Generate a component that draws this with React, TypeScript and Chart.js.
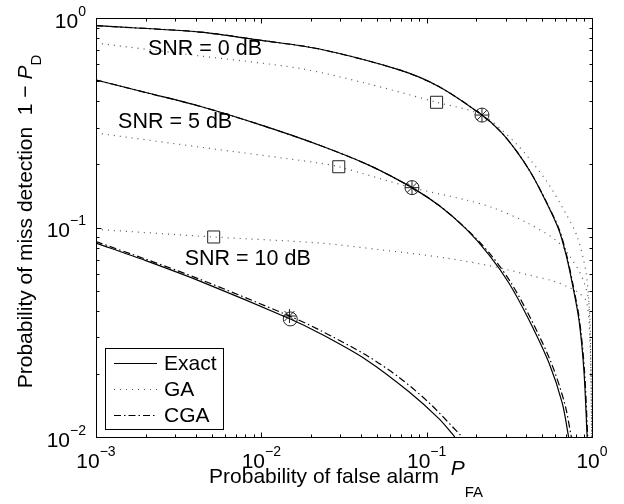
import React, { useEffect, useRef } from 'react';
import { Chart, registerables } from 'chart.js';

Chart.register(...registerables);

// ---- axes ----
const xTickValues = [0.001, 0.01, 0.1, 1];
const xTickExponents = ['−3', '−2', '−1', '0'];
const yTickValues = [0.01, 0.1, 1];
const yTickExponents = ['−2', '−1', '0'];
const xMinorDecades = [0.001, 0.01, 0.1];
const yMinorDecades = [0.01, 0.1];

const xTitle = 'Probability of false alarm  ';
const xTitleSymbol = 'P';
const xTitleSub = 'FA';
const yTitle = 'Probability of miss detection  1 − ';
const yTitleSymbol = 'P';
const yTitleSub = 'D';

// ---- Exact (solid) ----
const exact0Pfa = [0.001, 0.00425, 0.01, 0.0225, 0.0684, 0.119, 0.216, 0.28, 0.346, 0.426, 0.52, 0.631, 0.7, 0.759, 0.834, 0.893, 0.935];
const exact0Pmd = [0.919, 0.857, 0.782, 0.711, 0.565, 0.47, 0.344, 0.287, 0.234, 0.183, 0.1357, 0.0973, 0.073, 0.0543, 0.0362, 0.0209, 0.01];
const exact5Pfa = [0.001, 0.002, 0.00425, 0.01, 0.0225, 0.045, 0.0815, 0.119, 0.173, 0.239, 0.315, 0.416, 0.549, 0.661, 0.722];
const exact5Pmd = [0.506, 0.441, 0.379, 0.308, 0.247, 0.198, 0.155, 0.1273, 0.0985, 0.0739, 0.0542, 0.0362, 0.0226, 0.0145, 0.01];
const exact10Pfa = [0.001, 0.002, 0.00425, 0.01496, 0.0225, 0.043, 0.0785, 0.119, 0.148];
const exact10Pmd = [0.0843, 0.0695, 0.0555, 0.0366, 0.0313, 0.0234, 0.0164, 0.0122, 0.01];

// ---- GA (dotted) ----
const ga0Pfa = [0.001, 0.00425, 0.017, 0.043, 0.1148, 0.216, 0.346, 0.525, 0.693, 0.814, 0.915, 0.958, 0.985, 0.995];
const ga0Pmd = [0.76, 0.659, 0.575, 0.488, 0.396, 0.344, 0.252, 0.1686, 0.117, 0.0904, 0.0627, 0.0436, 0.0209, 0.01];
const ga5Pfa = [0.001, 0.00425, 0.0225, 0.0294, 0.0815, 0.173, 0.256, 0.397, 0.603, 0.726, 0.873, 0.958, 0.985, 0.995];
const ga5Pmd = [0.2825, 0.242, 0.203, 0.195, 0.155, 0.1353, 0.1235, 0.1062, 0.0871, 0.0739, 0.0576, 0.0436, 0.0209, 0.01];
const ga10Pfa = [0.001, 0.00515, 0.0225, 0.054, 0.131, 0.256, 0.416, 0.603, 0.708, 0.834, 0.932, 0.985, 0.995];
const ga10Pmd = [0.098, 0.0901, 0.0843, 0.0781, 0.0715, 0.065, 0.0593, 0.0551, 0.0522, 0.0487, 0.0436, 0.0209, 0.01];

// ---- CGA (dash-dot) ----
const cga0Pfa = [0.001, 0.00425, 0.01, 0.0225, 0.0684, 0.119, 0.216, 0.28, 0.346, 0.426, 0.522, 0.635, 0.705, 0.764, 0.84, 0.9, 0.942];
const cga0Pmd = [0.919, 0.857, 0.782, 0.711, 0.565, 0.47, 0.344, 0.287, 0.234, 0.183, 0.1357, 0.0973, 0.073, 0.0543, 0.0362, 0.0209, 0.01];
const cga5Pfa = [0.001, 0.002, 0.00425, 0.01, 0.0225, 0.045, 0.0815, 0.119, 0.174, 0.245, 0.325, 0.43, 0.567, 0.683, 0.75];
const cga5Pmd = [0.506, 0.441, 0.379, 0.308, 0.247, 0.198, 0.155, 0.1273, 0.0985, 0.0739, 0.0542, 0.0362, 0.0226, 0.0145, 0.01];
const cga10Pfa = [0.001, 0.002, 0.00425, 0.0148, 0.0225, 0.043, 0.0684, 0.104, 0.164];
const cga10Pmd = [0.0856, 0.0706, 0.0566, 0.0378, 0.0324, 0.0246, 0.0192, 0.0145, 0.01];

// ---- markers ----
const exactMarkPfa = [0.216, 0.0815, 0.01496];
const exactMarkPmd = [0.344, 0.155, 0.0366];
const cgaMarkPfa = [0.216, 0.0815, 0.0148];
const cgaMarkPmd = [0.344, 0.155, 0.0378];
const gaMarkPfa = [0.1148, 0.0294, 0.00515];
const gaMarkPmd = [0.396, 0.195, 0.0901];

// ---- annotations ----
const annotationLabels = ['SNR = 0 dB', 'SNR = 5 dB', 'SNR = 10 dB'];
const annotationPfa = [0.00206, 0.00136, 0.00344];
const annotationPmd = [0.666, 0.2985, 0.0662];

// ---- legend ----
const legendLabels = ['Exact', 'GA', 'CGA'];

const FONT = '"Liberation Sans", Arial, Helvetica, sans-serif';
const SOLID: number[] = [];
const DOTTED = [1, 5];
const DASHDOT = [7, 3, 1.5, 3];
const GA_COLOR = '#555555';

const pts = (xs: number[], ys: number[]) => xs.map((v, i) => ({ x: v, y: ys[i] }));

const lineDs = (xs: number[], ys: number[], dash: number[], color: string, width: number) => ({
  data: pts(xs, ys),
  showLine: true,
  borderColor: color,
  borderWidth: width,
  borderDash: dash,
  pointRadius: 0,
  fill: false,
  tension: 0.3,
});

const markerDs = (xs: number[], ys: number[], style: string, r: number) => ({
  data: pts(xs, ys),
  showLine: false,
  pointStyle: style,
  pointRadius: r,
  pointBorderColor: '#222',
  pointBackgroundColor: 'rgba(0,0,0,0)',
  pointBorderWidth: 1,
  borderColor: '#222',
  backgroundColor: 'rgba(0,0,0,0)',
});

const decorPlugin = {
  id: 'decor',
  afterDraw(chart: any) {
    const { ctx, chartArea: a, scales } = chart;
    const sx = scales.x;
    const sy = scales.y;
    ctx.save();
    ctx.strokeStyle = '#000';
    ctx.fillStyle = '#000';
    ctx.lineWidth = 1;
    ctx.setLineDash([]);

    const L = Math.round(a.left) + 0.5;
    const R = Math.round(a.right) + 0.5;
    const T = Math.round(a.top) + 0.5;
    const B = Math.round(a.bottom) + 0.5;

    // ticks
    const tickX = (v: number, len: number) => {
      const px = Math.round(sx.getPixelForValue(v)) + 0.5;
      ctx.beginPath();
      ctx.moveTo(px, B); ctx.lineTo(px, B - len);
      ctx.moveTo(px, T); ctx.lineTo(px, T + len);
      ctx.stroke();
    };
    const tickY = (v: number, len: number) => {
      const py = Math.round(sy.getPixelForValue(v)) + 0.5;
      ctx.beginPath();
      ctx.moveTo(L, py); ctx.lineTo(L + len, py);
      ctx.moveTo(R, py); ctx.lineTo(R - len, py);
      ctx.stroke();
    };
    xTickValues.forEach((v) => tickX(v, 5));
    yTickValues.forEach((v) => tickY(v, 5));
    xMinorDecades.forEach((d) => { for (let m = 2; m <= 9; m++) tickX(d * m, 3); });
    yMinorDecades.forEach((d) => { for (let m = 2; m <= 9; m++) tickY(d * m, 3); });

    // box
    ctx.strokeRect(L, T, R - L, B - T);

    const baseFont = `21px ${FONT}`;
    const expFont = `14px ${FONT}`;

    // x tick labels
    ctx.textBaseline = 'alphabetic';
    ctx.textAlign = 'left';
    xTickValues.forEach((v, i) => {
      const px = sx.getPixelForValue(v);
      ctx.font = baseFont;
      const w1 = ctx.measureText('10').width;
      ctx.font = expFont;
      const w2 = ctx.measureText(xTickExponents[i]).width;
      const x0 = px - (w1 + w2) / 2;
      const base = a.bottom + 31;
      ctx.font = baseFont;
      ctx.fillText('10', x0, base);
      ctx.font = expFont;
      ctx.fillText(xTickExponents[i], x0 + w1, base - 12);
    });

    // y tick labels
    yTickValues.forEach((v, i) => {
      const py = sy.getPixelForValue(v);
      ctx.font = baseFont;
      const w1 = ctx.measureText('10').width;
      ctx.font = expFont;
      const w2 = ctx.measureText(yTickExponents[i]).width;
      const x0 = a.left - 10 - (w1 + w2);
      const base = py + 9.5;
      ctx.font = baseFont;
      ctx.fillText('10', x0, base);
      ctx.font = expFont;
      ctx.fillText(yTickExponents[i], x0 + w1, base - 12);
    });

    // x title
    const titleFont = `21px ${FONT}`;
    const italicFont = `italic 21px ${FONT}`;
    const subFont = `15px ${FONT}`;
    {
      ctx.font = titleFont;
      const w1 = ctx.measureText(xTitle).width;
      ctx.font = italicFont;
      const w2 = ctx.measureText(xTitleSymbol).width;
      ctx.font = subFont;
      const w3 = ctx.measureText(xTitleSub).width;
      const cx = (a.left + a.right) / 2 + 2;
      const x0 = cx - (w1 + w2 + w3) / 2;
      const base = a.bottom + 46;
      ctx.font = titleFont;
      ctx.fillText(xTitle, x0, base);
      ctx.font = italicFont;
      ctx.fillText(xTitleSymbol, x0 + w1, base - 8);
      ctx.font = subFont;
      ctx.fillText(xTitleSub, x0 + w1 + w2, base + 14);
    }

    // y title
    {
      ctx.font = titleFont;
      const w1 = ctx.measureText(yTitle).width;
      ctx.font = italicFont;
      const w2 = ctx.measureText(yTitleSymbol).width;
      ctx.font = subFont;
      const w3 = ctx.measureText(yTitleSub).width;
      const cy = (a.top + a.bottom) / 2 - 6;
      ctx.save();
      ctx.translate(32, cy);
      ctx.rotate(-Math.PI / 2);
      const x0 = -(w1 + w2 + w3) / 2;
      ctx.font = titleFont;
      ctx.fillText(yTitle, x0, 0);
      ctx.font = italicFont;
      ctx.fillText(yTitleSymbol, x0 + w1, 0);
      ctx.font = subFont;
      ctx.fillText(yTitleSub, x0 + w1 + w2, 9);
      ctx.restore();
    }

    // annotations
    ctx.font = `21.5px ${FONT}`;
    annotationLabels.forEach((t, i) => {
      ctx.fillText(t, sx.getPixelForValue(annotationPfa[i]), sy.getPixelForValue(annotationPmd[i]));
    });

    // legend
    const lx = a.left + 9, ly = a.bottom - 89, lw = 118, lh = 81;
    ctx.fillStyle = '#fff';
    ctx.fillRect(lx, ly, lw, lh);
    ctx.strokeStyle = '#000';
    ctx.lineWidth = 1;
    ctx.strokeRect(Math.round(lx) + 0.5, Math.round(ly) + 0.5, lw, lh);
    const styles = [
      { dash: SOLID, color: '#000', w: 1.2 },
      { dash: DOTTED, color: GA_COLOR, w: 1.2 },
      { dash: DASHDOT, color: '#000', w: 1.2 },
    ];
    legendLabels.forEach((t, i) => {
      const yy = ly + 15 + i * 26;
      ctx.save();
      ctx.strokeStyle = styles[i].color;
      ctx.lineWidth = styles[i].w;
      ctx.setLineDash(styles[i].dash);
      ctx.beginPath();
      ctx.moveTo(lx + 9, yy + 0.5);
      ctx.lineTo(lx + 52, yy + 0.5);
      ctx.stroke();
      ctx.restore();
      ctx.fillStyle = '#000';
      ctx.font = `21px ${FONT}`;
      ctx.textBaseline = 'middle';
      ctx.fillText(t, lx + 59, yy + 1);
      ctx.textBaseline = 'alphabetic';
    });

    ctx.restore();
  },
};

export default function App() {
  const ref = useRef<HTMLCanvasElement | null>(null);
  useEffect(() => {
    if (!ref.current) return;
    const chart = new Chart(ref.current, {
      type: 'scatter',
      data: {
        datasets: [
          lineDs(ga0Pfa, ga0Pmd, DOTTED, GA_COLOR, 1.2),
          lineDs(ga5Pfa, ga5Pmd, DOTTED, GA_COLOR, 1.2),
          lineDs(ga10Pfa, ga10Pmd, DOTTED, GA_COLOR, 1.2),
          lineDs(cga0Pfa, cga0Pmd, DASHDOT, '#000', 1.2),
          lineDs(cga5Pfa, cga5Pmd, DASHDOT, '#000', 1.2),
          lineDs(cga10Pfa, cga10Pmd, DASHDOT, '#000', 1.2),
          lineDs(exact0Pfa, exact0Pmd, SOLID, '#000', 1.2),
          lineDs(exact5Pfa, exact5Pmd, SOLID, '#000', 1.2),
          lineDs(exact10Pfa, exact10Pmd, SOLID, '#000', 1.2),
          markerDs(gaMarkPfa, gaMarkPmd, 'rect', 8.5),
          markerDs(exactMarkPfa, exactMarkPmd, 'circle', 7),
          markerDs(cgaMarkPfa, cgaMarkPmd, 'star', 7),
        ] as any,
      },
      options: {
        animation: false,
        responsive: false,
        maintainAspectRatio: false,
        devicePixelRatio: 1,
        layout: { padding: { left: 96, right: 32, top: 18, bottom: 67 } },
        plugins: { legend: { display: false }, tooltip: { enabled: false } },
        scales: {
          x: { type: 'logarithmic', min: 0.001, max: 1, display: false },
          y: { type: 'logarithmic', min: 0.01, max: 1, display: false },
        },
      } as any,
      plugins: [decorPlugin],
    });
    return () => chart.destroy();
  }, []);
  return (
    <div style={{ position: 'fixed', left: 0, top: 0, width: 624, height: 504, background: '#fff' }}>
      <canvas ref={ref} width={624} height={504} style={{ display: 'block', width: 624, height: 504 }} />
    </div>
  );
}
